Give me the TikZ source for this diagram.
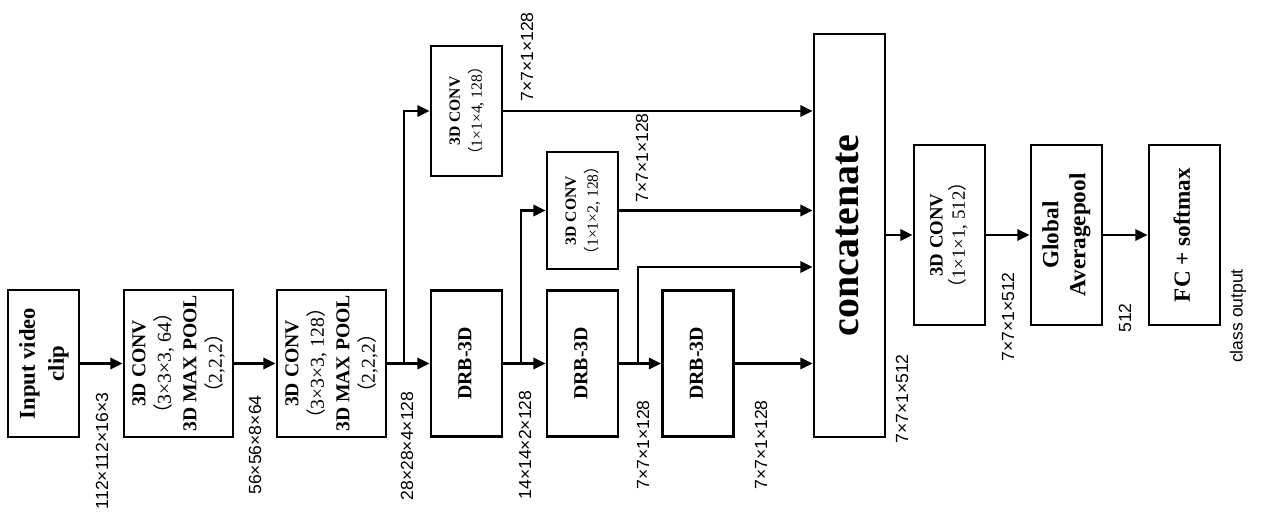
\documentclass[tikz,border=0pt]{standalone}
\usepackage{fontspec}
\usepackage{graphicx}
\setmainfont{Liberation Serif}
\newfontfamily\lblfont{Liberation Sans}
\newfontfamily\cjk{Noto Sans CJK SC}
\usetikzlibrary{arrows.meta}
\newcommand{\vt}[1]{\rotatebox{90}{\begin{tabular}{@{}c@{}}#1\end{tabular}}}
\newcommand{\fwl}{{\cjk （}}
\newcommand{\fwr}{{\cjk ）}}
\begin{document}
\begin{tikzpicture}[x=0.02cm,y=-0.02cm,>={Triangle[length=7pt,width=6.5pt]},
	blk/.style={draw,line width=1.6pt,inner sep=0pt,minimum width=1.42cm,minimum height=2.94cm},
	lbl/.style={rotate=90,inner sep=0pt,font=\lblfont\fontsize{10}{12}\selectfont},
	flow/.style={->,line width=1.2pt}]
	\useasboundingbox (0,0) rectangle (1267,531);
	% main row
	\node[blk,font=\bfseries\fontsize{12.9}{16.5}\selectfont] (in) at (43.5,363.5) {\vt{Input video\\clip}};
	\node[blk,minimum width=2.18cm,font=\bfseries\fontsize{11.2}{14.5}\selectfont] (b2) at (178.5,363.5) {\vt{3D CONV\\{\mdseries\fwl 3×3×3, 64\fwr}\\3D MAX POOL\\{\mdseries\fwl 2,2,2\fwr}}};
	\node[blk,minimum width=2.18cm,font=\bfseries\fontsize{11.2}{14.5}\selectfont] (b3) at (331.5,363.5) {\vt{3D CONV\\{\mdseries\fwl 3×3×3, 128\fwr}\\3D MAX POOL\\{\mdseries\fwl 2,2,2\fwr}}};
	\node[blk,minimum height=2.92cm,font=\bfseries\fontsize{11.3}{14}\selectfont] (drb1) at (466.5,363.5) {\vt{DRB-3D}};
	\node[blk,minimum height=2.92cm,font=\bfseries\fontsize{11.3}{14}\selectfont] (drb2) at (582.5,363.5) {\vt{DRB-3D}};
	\node[blk,minimum height=2.92cm,font=\bfseries\fontsize{11.3}{14}\selectfont] (drb3) at (698,363.5) {\vt{DRB-3D}};
	% side branches
	\node[blk,minimum height=2.6cm,font=\bfseries\fontsize{8.9}{12.5}\selectfont] (cv4) at (466.5,111) {\vt{3D CONV\\{\mdseries\fwl 1×1×4, 128\fwr}}};
	\node[blk,minimum height=2.34cm,font=\bfseries\fontsize{8.9}{12.5}\selectfont] (cv2) at (582.5,210.5) {\vt{3D CONV\\{\mdseries\fwl 1×1×2, 128\fwr}}};
	% head
	\node[blk,minimum height=8.06cm,font=\bfseries\fontsize{22.7}{26}\selectfont] (cat) at (849.5,235.5) {\vt{concatenate}};
	\node[blk,minimum height=3.6cm,font=\bfseries\fontsize{10.7}{12}\selectfont] (cv5) at (949.5,235) {\vt{3D CONV\\{\mdseries\fwl 1×1×1, 512\fwr}}};
	\node[blk,minimum height=3.6cm,font=\bfseries\fontsize{13.2}{15.3}\selectfont] (gap) at (1066.5,235) {\vt{Global\\Averagepool}};
	\node[blk,minimum height=3.6cm,font=\bfseries\fontsize{13.2}{15.3}\selectfont] (fc) at (1184.5,235) {\vt{FC + softmax}};
	% connectors
	\coordinate (s1) at (404,363.5);
	\coordinate (s2) at (521,363.5);
	\coordinate (s3) at (638,363.5);
	\draw[flow] (in.east) -- (b2.west);
	\draw[flow] (b2.east) -- (b3.west);
	\draw[flow] (b3.east) -- (drb1.west);
	\draw[flow] (drb1.east) -- (drb2.west);
	\draw[flow] (drb2.east) -- (drb3.west);
	\draw[flow] (drb3.east) -- (drb3.east -| cat.west);
	\draw[flow] (s1) |- (cv4.west);
	\draw[flow] (s2) |- (cv2.west);
	\draw[flow] (s3) |- ([yshift=-0.63cm]cat.west);
	\draw[flow] (cv4.east) -- (cv4.east -| cat.west);
	\draw[flow] (cv2.east) -- (cv2.east -| cat.west);
	\draw[flow] (cat.east |- cv5.west) -- (cv5.west);
	\draw[flow] (cv5.east) -- (gap.west);
	\draw[flow] (gap.east) -- (fc.west);
	% sizes
	\node[lbl] (l1) at (102,451) {112×112×16×3};
	\node[lbl] (l2) at (255,445) {56×56×8×64};
	\node[lbl] (l3) at (407,446) {28×28×4×128};
	\node[lbl] (l4) at (527,57) {7×7×1×128};
	\node[lbl] (l5) at (642,158) {7×7×1×128};
	\node[lbl] (l6) at (525,445) {14×14×2×128};
	\node[lbl] (l7) at (643,445) {7×7×1×128};
	\node[lbl] (l8) at (761,445) {7×7×1×128};
	\node[lbl] (l9) at (902,399) {7×7×1×512};
	\node[lbl] (l10) at (1008,317) {7×7×1×512};
	\node[lbl] (l11) at (1125,318) {512};
	\node[lbl] (l12) at (1238,316) {class output};
\end{tikzpicture}
\end{document}
